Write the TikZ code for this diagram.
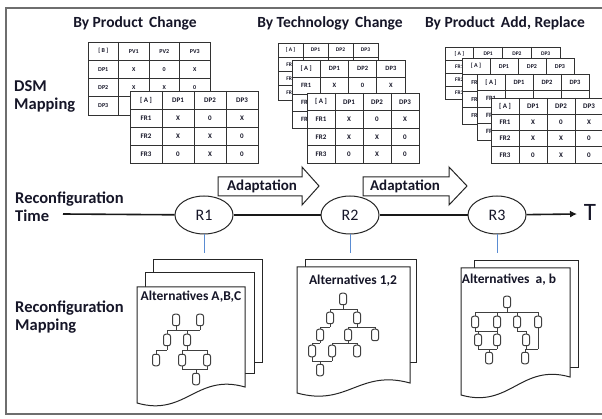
\documentclass[tikz,border=0pt]{standalone}
\usepackage{fontspec}
\setmainfont{Carlito}
\usetikzlibrary{arrows.meta,shapes.geometric}

\definecolor{ink}{RGB}{22,22,40}
\definecolor{rulec}{RGB}{50,50,50}
\definecolor{framec}{RGB}{110,110,110}
\definecolor{linkc}{RGB}{90,140,210}

\tikzset{
  title/.style={font=\bfseries\fontsize{15.5}{15.5}\selectfont, text=ink, anchor=base, inner sep=0},
  side/.style={font=\bfseries\fontsize{16.5}{18}\selectfont, text=ink, anchor=west, align=left, inner sep=0},
  tbl/.style={draw=rulec, line width=0.8},
  cell/.style={inner sep=0, text=ink},
  page/.style={draw=black!85, line width=1, fill=white},
  stage/.style={ellipse, draw=black!85, line width=1, fill=white, minimum width=58, minimum height=38,
                inner sep=0, font=\fontsize{16}{16}\selectfont, text=ink},
  leaf/.style={draw=black!75, line width=1, fill=white, rounded corners=2.2,
               minimum width=7, minimum height=11.5, inner sep=0},
  tline/.style={draw=black!75, line width=0.9},
  alt/.style={font=\bfseries\fontsize{13.5}{13.5}\selectfont, text=ink, inner sep=0, anchor=base},
  timeline/.style={draw=black!90, line width=1.6},
  adaptbox/.style={draw=black!85, line width=1, fill=white},
  adapttext/.style={font=\bfseries\fontsize{15}{15}\selectfont, text=ink, inner sep=0},
}

% 4x4 DSM grid: x, y, width, height, font size, corner label, column prefix, row prefix,
% number of body rows whose entries are filled in (the rest only carry their row label)
\newcommand\dsmtable[9]{%
  \begin{scope}[shift={(#1,#2)}, every node/.style={cell, font=\bfseries\fontsize{#5}{#5}\selectfont}]
    \fill[white] (0,0) rectangle (#3,#4);
    \foreach \k in {1,2,3} {
      \draw[tbl] ({#3*\k/4},0) -- ({#3*\k/4},#4);
      \draw[tbl] (0,{#4*\k/4}) -- (#3,{#4*\k/4});
    }
    \draw[tbl] (0,0) rectangle (#3,#4);
    \foreach \c [count=\j from 0] in {#6,#71,#72,#73}
      \node at ({#3*(\j+0.5)/4},{#4/8}) {\c};
    \foreach \p/\q/\r [count=\i] in {X/0/X,X/X/0,0/X/0} {
      \node at ({#3/8},{#4*(\i+0.5)/4}) {#8\i};
      \ifnum\i>#9\relax\else
        \node at ({#3*3/8},{#4*(\i+0.5)/4}) {\p};
        \node at ({#3*5/8},{#4*(\i+0.5)/4}) {\q};
        \node at ({#3*7/8},{#4*(\i+0.5)/4}) {\r};
      \fi
    }
  \end{scope}}

% page with a wavy lower edge: left, top, right, bottom-left, bottom-right
\newcommand\docpage[5]{%
  \draw[page] (#1,#2) -- (#3,#2) -- (#3,#5)
    .. controls ({#3-0.45*(#3-#1)},{#5-14}) and ({#1+0.45*(#3-#1)},{#4+14}) .. (#1,#4) -- cycle;}

% orthogonal bus in a tree: parents, children, bus y, leftmost node, rightmost node
\newcommand\tbus[5]{%
  \coordinate (tb) at (0,#3);
  \draw[tline] (#4 |- tb) -- (#5 |- tb);
  \foreach \p in {#1} {\draw[tline] (\p.south) -- (\p |- tb);}
  \foreach \c in {#2} {\draw[tline] (\c.north) -- (\c |- tb);}
}

\begin{document}
\begin{tikzpicture}[x=1pt,y=-1pt]
\useasboundingbox (0,0) rectangle (602,419);
\clip (0,0) rectangle (602,419);
\fill[white] (0,0) rectangle (602,419);
\draw[draw=framec, line width=1.4] (6,8) rectangle (606,414);

% column titles
\node[title] (tprod) at (135,27.5) {By Product\, Change};
\node[title] (ttech) at (330,27.5) {By Technology\, Change};
\node[title] (tadd)  at (505,27.5) {By Product\, Add, Replace};

% row labels
\node[side] (ldsm)  at (14,96)  {DSM\\Mapping};
\node[side] (ltime) at (15,207) {Reconfiguration\\Time};
\node[side] (lmap)  at (15,317) {Reconfiguration\\Mapping};

% DSM tables: product change
\dsmtable{88}{42}{122}{73}{6}{{[ B ]}}{PV}{DP}{2}
\dsmtable{130}{91}{128}{72}{7}{{[ A ]}}{DP}{FR}{3}
% technology change
\dsmtable{278}{43}{100}{57}{5.5}{{[ A ]}}{DP}{FR}{0}
\dsmtable{292}{60}{113}{68}{6.5}{{[ A ]}}{DP}{FR}{1}
\dsmtable{307}{93}{112}{70}{7}{{[ A ]}}{DP}{FR}{3}
% product add / replace
\dsmtable{445}{47}{115}{52}{5.5}{{[ A ]}}{DP}{FR}{0}
\dsmtable{462}{58}{112}{66}{6}{{[ A ]}}{DP}{FR}{0}
\dsmtable{477}{74}{112}{66}{6.5}{{[ A ]}}{DP}{FR}{0}
\dsmtable{491}{98}{112}{65}{7}{{[ A ]}}{DP}{FR}{3}

% adaptation arrows
\draw[adaptbox] (218,177) -- (302,177) -- (302,167) -- (319,186) -- (302,205) -- (302,196) -- (218,196) -- cycle;
\node[adapttext] (adapt1) at (262,186) {Adaptation};
\draw[adaptbox] (363,177) -- (449,177) -- (449,167) -- (467,186) -- (449,205) -- (449,196) -- (363,196) -- cycle;
\node[adapttext] (adapt2) at (405,186) {Adaptation};

% time axis
\node[stage] (R1) at (204,215) {R1};
\node[stage] (R2) at (350,215) {R2};
\node[stage] (R3) at (497,215) {R3};
\coordinate (tstart) at (63,214);
\coordinate (tend) at (577,214);
\draw[timeline] (tstart) -- (R1);
\draw[timeline] (R1) -- (R2);
\draw[timeline] (R2) -- (R3);
\draw[timeline, -{Latex[length=7,width=7]}] (R3) -- (tend);
\node[font=\fontsize{25}{25}\selectfont, text=ink, inner sep=0] (T) at (590,212) {T};

% links to mapping pages
\coordinate (m1) at (204,253);
\coordinate (m2) at (350,253);
\coordinate (m3) at (497,253);
\draw[draw=linkc, line width=1] (R1.south) -- (m1);
\draw[draw=linkc, line width=1] (R2.south) -- (m2);
\draw[draw=linkc, line width=1] (R3.south) -- (m3);

% mapping pages for R1
\draw[page] (153,260) rectangle (262,362);
\draw[page] (145,273) rectangle (254,373);
\docpage{137}{287}{245}{403}{387}
\node[alt] (alt1) at (191,301) {Alternatives A,B,C};
\node[leaf] (a1) at (176,320) {};
\node[leaf] (b1) at (200,320) {};
\node[leaf] (c1) at (167,340) {};
\node[leaf] (d1) at (187,340) {};
\node[leaf] (e1) at (156,360) {};
\node[leaf] (f1) at (182,360) {};
\node[leaf] (g1) at (207,360) {};
\node[leaf] (h1) at (196,379) {};
\tbus{a1,b1}{c1,d1}{330}{c1}{b1}
\tbus{c1}{e1}{350}{e1}{c1}
\tbus{d1}{f1,g1}{350}{f1}{g1}
\tbus{f1,g1}{h1}{369.5}{f1}{g1}

% mapping pages for R2
\draw[page] (305,260) rectangle (416,362);
\docpage{297}{267}{410}{393}{383}
\node[alt] (alt2) at (353,285) {Alternatives 1,2};
\node[leaf] (r2) at (343,299) {};
\node[leaf] (a2) at (330,318) {};
\node[leaf] (b2) at (357,318) {};
\node[leaf] (c2) at (320,335) {};
\node[leaf] (d2) at (348,335) {};
\node[leaf] (e2) at (375,335) {};
\node[leaf] (f2) at (312,351) {};
\node[leaf] (g2) at (332,351) {};
\node[leaf] (h2) at (357,351) {};
\node[leaf] (i2) at (320,370) {};
\tbus{r2}{a2,b2}{309}{a2}{b2}
\tbus{a2}{c2}{327}{c2}{a2}
\tbus{b2}{d2,e2}{327}{d2}{e2}
\tbus{c2}{f2}{343}{f2}{c2}
\tbus{d2}{g2,h2}{343}{g2}{h2}
\tbus{f2,g2}{i2}{361}{f2}{g2}

% mapping pages for R3
\draw[page] (474,261) rectangle (578,367);
\docpage{461}{268}{570}{395}{377}
\node[alt] (alt3) at (509,284) {Alternatives\ \ a, b};
\node[leaf] (r3) at (507,302) {};
\node[leaf] (a3) at (475,322) {};
\node[leaf] (b3) at (497,322) {};
\node[leaf] (c3) at (517,322) {};
\node[leaf] (d3) at (538,322) {};
\node[leaf] (e3) at (478,340) {};
\node[leaf] (f3) at (497,340) {};
\node[leaf] (g3) at (526,340) {};
\node[leaf] (h3) at (489,358) {};
\node[leaf] (i3) at (525,358) {};
\tbus{r3}{a3,b3,c3,d3}{312}{a3}{d3}
\tbus{a3,b3}{e3,f3}{331}{a3}{b3}
\tbus{c3}{g3}{331}{c3}{g3}
\tbus{g3,d3}{i3}{349}{g3}{d3}
\tbus{e3,f3}{h3}{349}{e3}{f3}
\end{tikzpicture}
\end{document}
